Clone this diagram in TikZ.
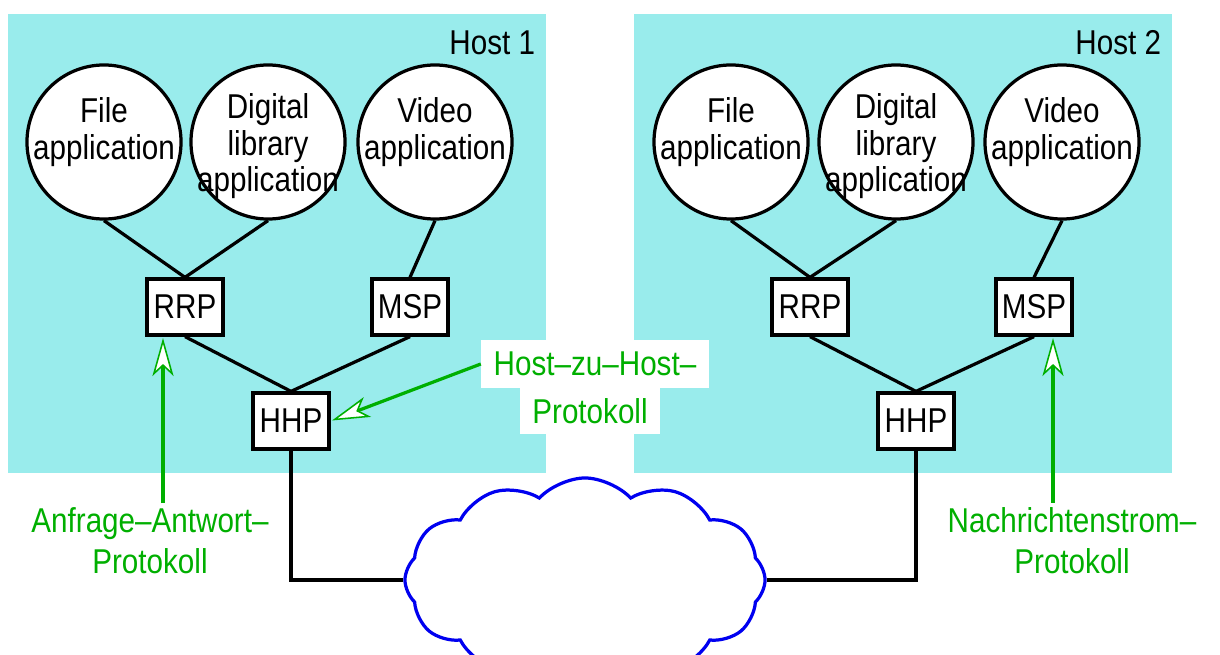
\documentclass[tikz,border=0pt]{standalone}
\usepackage{fontspec}
\setmainfont{Liberation Sans}[FakeStretch=0.86]
\usetikzlibrary{shapes.symbols,arrows.meta}
\definecolor{hostcyan}{RGB}{153,236,236}
\definecolor{protogreen}{RGB}{0,175,0}
\definecolor{cloudblue}{RGB}{0,0,240}

\begin{document}
\begin{tikzpicture}[x=0.025cm,y=-0.025cm,font=\fontsize{24.5}{26}\selectfont]
    \tikzstyle{host}=[fill=hostcyan]
    \tikzstyle{app}=[circle,draw,line width=2.3pt,fill=white,minimum size=3.85cm,inner sep=0pt]
    \tikzstyle{proto}=[rectangle,draw,line width=2.3pt,fill=white,minimum width=1.9cm,minimum height=1.4cm]
    \tikzstyle{link}=[line width=2.3pt]
    \tikzstyle{note}=[text=protogreen,align=center,font=\fontsize{24.5}{29}\selectfont]
    \tikzstyle{pointer}=[protogreen,line width=2.3pt,shorten >=1pt,
                         -{Stealth[length=27pt,width=15pt,inset=7pt,open,fill=white,line width=1.1pt]}]

    \clip (0,0) rectangle (1220,655);
    \fill[white] (0,0) rectangle (1220,655);
    \fill[host] (8,14)   rectangle (546,473);
    \fill[host] (634,14) rectangle (1172,473);
    \node[anchor=base east] (host1) at (540,55)  {Host 1};
    \node[anchor=base east] (host2) at (1166,55) {Host 2};

    % host 1
    \node[app,label={[align=center,yshift=7pt]center:File\\application}]  (file1)    at (104,142) {};
    \node[app,label={[align=center,yshift=-3pt]center:Digital\\library\\application}] (digital1) at (268,142) {};
    \node[app,label={[align=center,yshift=7pt]center:Video\\application}] (video1)   at (435,142) {};
    \node[proto] (rrp1) at (185,307) {RRP};
    \node[proto] (msp1) at (410,307) {MSP};
    \node[proto] (hhp1) at (291,421) {HHP};

    % host 2
    \node[app,label={[align=center,yshift=7pt]center:File\\application}]  (file2)    at (731,142) {};
    \node[app,label={[align=center,yshift=-3pt]center:Digital\\library\\application}] (digital2) at (896,142) {};
    \node[app,label={[align=center,yshift=7pt]center:Video\\application}] (video2)   at (1062,142) {};
    \node[proto] (rrp2) at (810,307)  {RRP};
    \node[proto] (msp2) at (1034,307) {MSP};
    \node[proto] (hhp2) at (916,421)  {HHP};

    \draw[link] (file1.south) -- (rrp1.north) (digital1.south) -- (rrp1.north)
                (video1.south) -- (msp1.north)
                (rrp1.south) -- (hhp1.north) (msp1.south) -- (hhp1.north);
    \draw[link] (file2.south) -- (rrp2.north) (digital2.south) -- (rrp2.north)
                (video2.south) -- (msp2.north)
                (rrp2.south) -- (hhp2.north) (msp2.south) -- (hhp2.north);

    % network
    \node[cloud,cloud puffs=12,cloud puff arc=95,cloud ignores aspect,draw=cloudblue,line width=2.3pt,
          fill=white,minimum width=9cm,minimum height=5.1cm] (net) at (585,580) {};
    \draw[link] (hhp1.south) |- (net.west);
    \draw[link] (hhp2.south) |- (net.east);

    % protocol labels
    \node[note] (anfrage) at (150,541) {Anfrage--Antwort--\\Protokoll};
    \node[note] (strom)   at (1072,541) {Nachrichtenstrom--\\Protokoll};
    \node[note,fill=white,inner xsep=9pt,minimum height=1.2cm] (hzh1) at (595,364) {Host--zu--Host--};
    \node[note,fill=white,inner xsep=9pt,minimum height=1.15cm] (hzh2) at (590,411) {Protokoll};
    \coordinate (arrow1) at (163,0);
    \coordinate (arrow2) at (1053,0);

    \draw[pointer] (anfrage.north -| arrow1) -- (rrp1.south -| arrow1);
    \draw[pointer] (strom.north -| arrow2) -- (msp2.south -| arrow2);
    \draw[pointer] (hzh1.west) -- (hhp1.east);

\end{tikzpicture}
\end{document}
